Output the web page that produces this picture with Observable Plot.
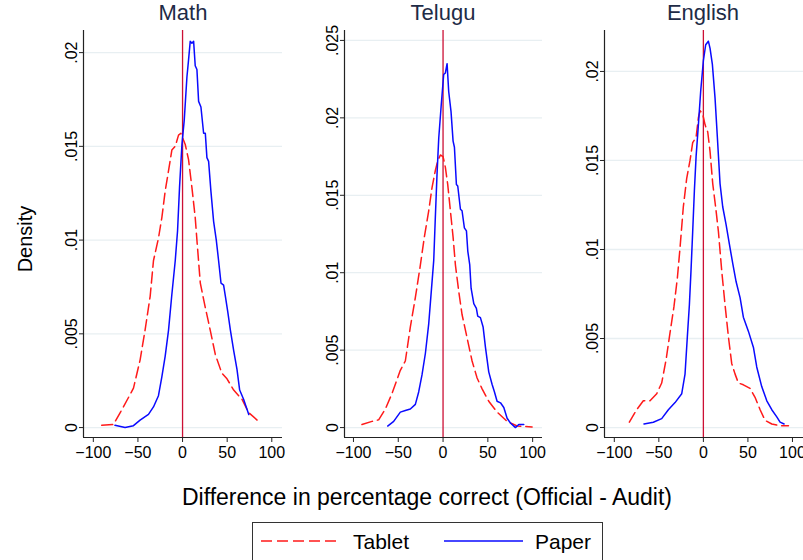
<!DOCTYPE html>
<html>
<head>
<meta charset="utf-8">
<script src="https://cdn.jsdelivr.net/npm/d3@7"></script>
<script src="https://cdn.jsdelivr.net/npm/@observablehq/plot@0.6"></script>
<style>
  html, body { margin: 0; padding: 0; background: #fff; }
  body { width: 803px; height: 560px; position: relative; overflow: hidden;
         font-family: "Liberation Sans", Arial, sans-serif; color: #000; }
  .panel { position: absolute; top: 0; }
  .title { position: absolute; top: 0px; font-size: 22px; color: #1e2b46;
           transform: translateX(-50%); white-space: nowrap; }
  .ylab { position: absolute; left: 25px; top: 239px; font-size: 20px;
          transform: translate(-50%, -50%) rotate(-90deg); white-space: nowrap; }
  .xlab { position: absolute; left: 427px; top: 484px; font-size: 23px;
          transform: translateX(-50%); white-space: nowrap; }
  .legend { position: absolute; left: 252px; top: 522px; width: 351px; height: 50px;
            border: 1px solid #333; box-sizing: border-box; }
  .legend svg { position: absolute; left: 0; top: 0; }
  .legend span { position: absolute; top: 7px; font-size: 21px; }
</style>
</head>
<body>
<script>
// Kernel density of (Official - Audit) percentage-correct differences, by subject and mode.
// Each entry is [difference, density].
const mathTablet = [[-90.6,0.00012],[-77.5,0.00016],[-66.3,0.0011],[-55,0.0021],[-47.6,0.0036],[-42,0.0052],[-36.3,0.0070],[-32.6,0.0089],[-27,0.0101],[-23.2,0.0112],[-19.5,0.0126],[-15.7,0.0137],[-12,0.0148],[-8.2,0.0150],[-4.5,0.0156],[-1.9,0.0157],[3,0.0151],[6.7,0.0143],[10.5,0.0128],[14.2,0.0112],[16.1,0.0100],[19.9,0.0077],[25.5,0.0064],[31,0.0052],[36.7,0.0039],[44,0.0029],[49.8,0.0026],[57.3,0.0020],[66.7,0.0015],[74,0.0008],[83.5,0.0004]];
const mathPaper = [[-75.7,0.00012],[-64.4,0.0],[-55,0.0001],[-47.6,0.0004],[-38.2,0.0007],[-32.6,0.0011],[-27,0.0017],[-23.2,0.0027],[-19.5,0.0038],[-15.7,0.0052],[-12,0.0071],[-8.2,0.0089],[-5.6,0.0105],[-3.4,0.0128],[-0.7,0.0151],[1.9,0.0164],[4.9,0.0187],[6.7,0.0196],[8.6,0.0206],[10.5,0.0205],[12.4,0.0206],[14.2,0.0193],[16.1,0.0191],[18,0.0174],[20.6,0.0171],[23.6,0.0157],[25.5,0.0157],[27.3,0.0144],[29.2,0.0142],[31.8,0.0126],[34.8,0.0110],[37.8,0.0100],[40.4,0.0089],[43.1,0.0077],[46,0.0076],[48,0.0070],[50.6,0.0062],[53.6,0.0052],[57.3,0.0041],[61,0.0031],[64,0.0020],[68.5,0.0015],[74.2,0.0007]];
const teluguTablet = [[-90.5,0.0002],[-79.3,0.0004],[-71.9,0.0005],[-64.4,0.0012],[-57,0.0022],[-47.7,0.0037],[-42.1,0.0043],[-36.5,0.0065],[-30.9,0.0084],[-25.3,0.0105],[-20.9,0.0123],[-16,0.0140],[-12.3,0.0155],[-8.6,0.0166],[-6,0.0172],[-3,0.0176],[0,0.0175],[2.6,0.0168],[5.2,0.0157],[8.2,0.0140],[11.2,0.0123],[13.8,0.0105],[17.5,0.0088],[21.2,0.0073],[26.8,0.0058],[32.4,0.0043],[38,0.0032],[43.6,0.0025],[51,0.0017],[60.3,0.0010],[71.5,0.0004],[82.7,0.0001],[99.4,0.00004]];
const teluguPaper = [[-61.8,0.0001],[-55.1,0.0004],[-47.7,0.0010],[-42.1,0.0011],[-36.5,0.0012],[-30.9,0.0015],[-27.2,0.0023],[-23.5,0.0034],[-19.7,0.0048],[-16,0.0067],[-13.4,0.0086],[-10.4,0.0108],[-8.6,0.0136],[-6.7,0.0164],[-4.8,0.0187],[-2.2,0.0207],[0.7,0.0228],[2.6,0.0229],[4.5,0.0235],[6.3,0.0217],[8.9,0.0204],[11.2,0.0185],[12.7,0.0181],[14.9,0.0157],[16.4,0.0156],[19.4,0.0141],[21.2,0.0140],[23.8,0.0129],[26.1,0.0127],[27.6,0.0114],[29.8,0.0105],[31.3,0.0090],[34.3,0.0080],[37.2,0.0077],[38.7,0.0072],[41.7,0.0071],[44.7,0.0065],[47.3,0.0052],[51,0.0036],[54.7,0.0028],[57.4,0.0023],[60.3,0.0017],[64.1,0.0016],[67.8,0.0013],[71.5,0.0006],[75.2,0.0003],[80.8,0.0000],[84.5,0.0002],[90.1,0.0002]];
const englishTablet = [[-83.1,0.0003],[-74.9,0.0010],[-67.4,0.0015],[-59.9,0.0015],[-52.4,0.0019],[-46.8,0.0025],[-41.9,0.0038],[-37.5,0.0053],[-33,0.0068],[-29.2,0.0084],[-26.2,0.0101],[-22.5,0.0124],[-18.7,0.0140],[-15,0.0150],[-12,0.0160],[-8.2,0.0163],[-5.6,0.0174],[-3.7,0.0178],[-0.7,0.0176],[1.9,0.0170],[4.9,0.0166],[7.5,0.0155],[10.5,0.0137],[14.2,0.0122],[16.9,0.0110],[20.6,0.0088],[24.3,0.0069],[28.1,0.0051],[31.8,0.0036],[35.6,0.0030],[39.3,0.0025],[44.9,0.0024],[52.4,0.0022],[58,0.0017],[63.7,0.0010],[69.3,0.0004],[76.8,0.0002],[86.1,0.0001],[95.5,0.0001]];
const englishPaper = [[-66.7,0.0002],[-56.2,0.0003],[-46.8,0.0005],[-39.3,0.0010],[-31.8,0.0014],[-24.3,0.0019],[-20.6,0.0030],[-18,0.0051],[-15.7,0.0069],[-13.9,0.0088],[-12,0.0110],[-10.1,0.0133],[-8.2,0.0152],[-5.6,0.0170],[-3,0.0189],[0,0.0206],[2.6,0.0215],[5.6,0.0217],[7.5,0.0213],[10.1,0.0204],[13.1,0.0185],[15.7,0.0163],[18.7,0.0137],[21.7,0.0124],[25.5,0.0114],[29.2,0.0103],[33,0.0092],[36.7,0.0082],[41.2,0.0073],[44.9,0.0062],[50.6,0.0054],[56.2,0.0045],[59.9,0.0034],[65.5,0.0023],[71.2,0.0015],[76.8,0.0010],[82.4,0.0006],[86.1,0.0003],[90.6,0.0002]];

const subjects = ["Math", "Telugu", "English"];
const xTicks = [-100, -50, 0, 50, 100];
const yTicksMath = [0, 0.005, 0.01, 0.015, 0.02];
const yTicksTelugu = [0, 0.005, 0.01, 0.015, 0.02, 0.025];
const yTicksEnglish = [0, 0.005, 0.01, 0.015, 0.02];
const modes = ["Tablet", "Paper"];

const FONT = '"Liberation Sans", Arial, sans-serif';
const RED = "#ff1a1a", BLUE = "#0a0aff", ZERO = "#cc1035", GRID = "#e8eff2", AXIS = "#222";

// Stata-style tick labels: ".015" rather than "0.015"
const fmtY = d => d === 0 ? "0" : String(+d.toFixed(4)).replace(/^0\./, ".");

function panel({title, tablet, paper, yTicks, xDomain, yDomain, left, width, marginRight, center}) {
  const chart = Plot.plot({
    width, height: 470,
    marginLeft: 44, marginRight, marginTop: 30, marginBottom: 33,
    x: {domain: xDomain},
    y: {domain: yDomain},
    style: {fontFamily: FONT, fontSize: "16px", color: "#000", background: "transparent", overflow: "visible"},
    marks: [
      Plot.gridY(yTicks, {stroke: GRID, strokeOpacity: 1, strokeWidth: 1.3}),
      Plot.ruleX([0], {stroke: ZERO, strokeWidth: 1.3}),
      Plot.lineY(tablet, {x: d => d[0], y: d => d[1], stroke: RED, strokeWidth: 1.5, strokeDasharray: "11,5"}),
      Plot.lineY(paper, {x: d => d[0], y: d => d[1], stroke: BLUE, strokeWidth: 1.5}),
      Plot.axisX({ticks: xTicks, tickSize: 5, tickPadding: 4, fontSize: 16, stroke: AXIS, label: null}),
      Plot.axisY({ticks: yTicks, tickSize: 4, tickPadding: 3, tickRotate: -90, tickFormat: fmtY, fontSize: 16, stroke: AXIS, label: null}),
      // axis lines along the left and bottom of the frame
      Plot.ruleX([xDomain[0]], {stroke: AXIS, strokeWidth: 1.2}),
      Plot.ruleY([yDomain[0]], {stroke: AXIS, strokeWidth: 1.2})
    ]
  });
  chart.classList.add("panel");
  chart.style.left = left + "px";
  document.body.appendChild(chart);
  const t = document.createElement("div");
  t.className = "title";
  t.textContent = title;
  t.style.left = center + "px";
  document.body.appendChild(t);
}

panel({title: subjects[0], tablet: mathTablet, paper: mathPaper, yTicks: yTicksMath,
       xDomain: [-111, 112], yDomain: [-0.00053, 0.02118], left: 39, width: 251, marginRight: 8, center: 183});
panel({title: subjects[1], tablet: teluguTablet, paper: teluguPaper, yTicks: yTicksTelugu,
       xDomain: [-110, 111], yDomain: [-0.00064, 0.02564], left: 300, width: 250, marginRight: 8, center: 443});
panel({title: subjects[2], tablet: englishTablet, paper: englishPaper, yTicks: yTicksEnglish,
       xDomain: [-111, 112.4], yDomain: [-0.00056, 0.0223], left: 560, width: 243, marginRight: 0, center: 703});

// Shared axis titles
const yl = document.createElement("div");
yl.className = "ylab"; yl.textContent = "Density";
document.body.appendChild(yl);
const xl = document.createElement("div");
xl.className = "xlab"; xl.textContent = "Difference in percentage correct (Official - Audit)";
document.body.appendChild(xl);

// Legend
const lg = document.createElement("div");
lg.className = "legend";
lg.innerHTML =
  `<svg width="351" height="50">
     <line x1="8" x2="88" y1="18" y2="18" stroke="${RED}" stroke-width="1.5" stroke-dasharray="11,5"/>
     <line x1="191" x2="270" y1="18" y2="18" stroke="${BLUE}" stroke-width="1.5"/>
   </svg>
   <span style="left:100px">${modes[0]}</span>
   <span style="left:282px">${modes[1]}</span>`;
document.body.appendChild(lg);
</script>
</body>
</html>
